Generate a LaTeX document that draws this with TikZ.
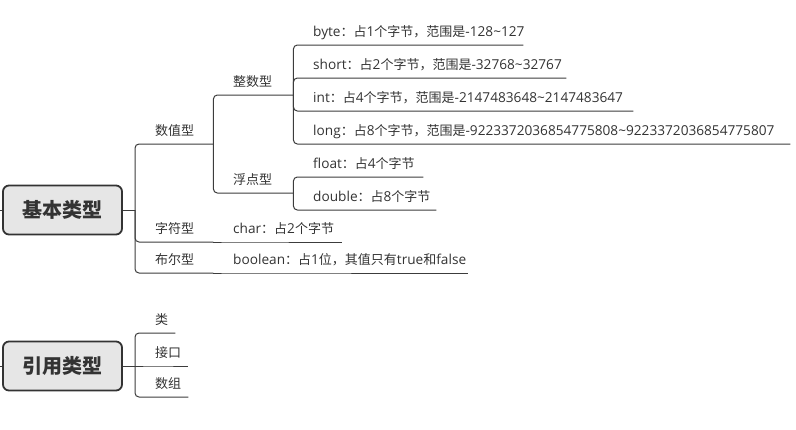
\documentclass[tikz,border=0pt]{standalone}
\usepackage{fontspec}
\usepackage{xcolor}
\setmainfont{Open Sans}[Scale=1.05]
\newfontfamily\cjkfont{Noto Sans CJK SC}
\newfontfamily\latfont{Open Sans}[Scale=1.05]
\usetikzlibrary{positioning}

% CJK characters get their own font
\makeatletter
\count@="4E00
\loop\ifnum\count@<"A000
  \XeTeXcharclass\count@=1
  \advance\count@ by 1
\repeat
\makeatother
\XeTeXcharclass"FF1A=1
\XeTeXcharclass"FF0C=1
\XeTeXinterchartokenstate=1
\XeTeXinterchartoks 0 1 = {\cjkfont}
\XeTeXinterchartoks 4095 1 = {\cjkfont}
\XeTeXinterchartoks 1 0 = {\latfont}
\exhyphenpenalty=10000

\definecolor{ink}{HTML}{333333}
\definecolor{wire}{HTML}{3C3C3C}
\definecolor{rootfill}{HTML}{E6E6E6}

\begin{document}
\begin{tikzpicture}[
    x=1pt, y=-1pt,
    root/.style={draw=ink, line width=1.8pt, fill=rootfill, rounded corners=6pt, minimum width=119pt, minimum height=49pt, text=ink, font=\fontsize{20}{24}\selectfont\bfseries},
    item/.style={anchor=south west, inner xsep=0pt, inner ysep=0pt, text height=10pt, text depth=8pt, text width=#1pt, align=left, text=ink, font=\fontsize{13}{15}\selectfont},
    branch/.style={draw=wire, line width=1pt, rounded corners=4pt}
]
    \useasboundingbox (0,0) rectangle (796,429);

    % basic types
    \node [root] (basic) at (62.5,210) {基本类型};
    \coordinate (basic-in) at (0,210);
    \coordinate (basic-j) at (135,210);

    \node [item=58] (num) at (155,144) {数值型};
    \node [item=60] (intg) at (233,95) {整数型};
    \node [item=60] (flt) at (233,193) {浮点型};

    \node [item=210] (byte) at (313,45) {byte：占1个字节，范围是-128\textasciitilde127};
    \node [item=253] (short) at (313,78) {short：占2个字节，范围是-32768\textasciitilde32767};
    \node [item=320] (int) at (313,111) {int：占4个字节，范围是-2147483648\textasciitilde2147483647};
    \node [item=477] (long) at (313,144) {long：占8个字节，范围是-9223372036854775808\textasciitilde9223372036854775807};
    \node [item=110] (float) at (313,177) {float：占4个字节};
    \node [item=123] (double) at (313,210) {double：占8个字节};

    \node [item=58] (chr) at (155,242) {字符型};
    \node [item=109] (charv) at (233,242) {char：占2个字节};
    \node [item=58] (bool) at (155,273) {布尔型};
    \node [item=235] (boolv) at (233,273) {boolean：占1位，其值只有true和false};

    % reference types
    \node [root] (ref) at (62.5,366) {引用类型};
    \coordinate (ref-in) at (0,366);
    \coordinate (ref-j) at (135,366);

    \node [item=20] (cls) at (155,333) {类};
    \node [item=33] (iface) at (155,366) {接口};
    \node [item=33] (arr) at (155,397) {数组};

    % connectors
    \draw [branch] (basic-in) -- (basic);
    \draw [branch] (basic) -- (basic-j);
    \foreach \n in {num,chr,bool}
        \draw [branch] (basic-j) |- (\n.south west) -- (\n.south east);
    \foreach \n in {intg,flt}
        \draw [branch] (num.south east) |- (\n.south west) -- (\n.south east);
    \foreach \n in {byte,short,int,long}
        \draw [branch] (intg.south east) |- (\n.south west) -- (\n.south east);
    \foreach \n in {float,double}
        \draw [branch] (flt.south east) |- (\n.south west) -- (\n.south east);
    \draw [branch] (chr.south east) -- (charv.south west) -- (charv.south east);
    \draw [branch] (bool.south east) -- (boolv.south west) -- (boolv.south east);

    \draw [branch] (ref-in) -- (ref);
    \draw [branch] (ref) -- (ref-j);
    \draw [branch] (ref-j) |- (cls.south west) -- (cls.south east);
    \draw [branch] (ref-j) -- (iface.south west) -- (iface.south east);
    \draw [branch] (ref-j) |- (arr.south west) -- (arr.south east);
\end{tikzpicture}
\end{document}
